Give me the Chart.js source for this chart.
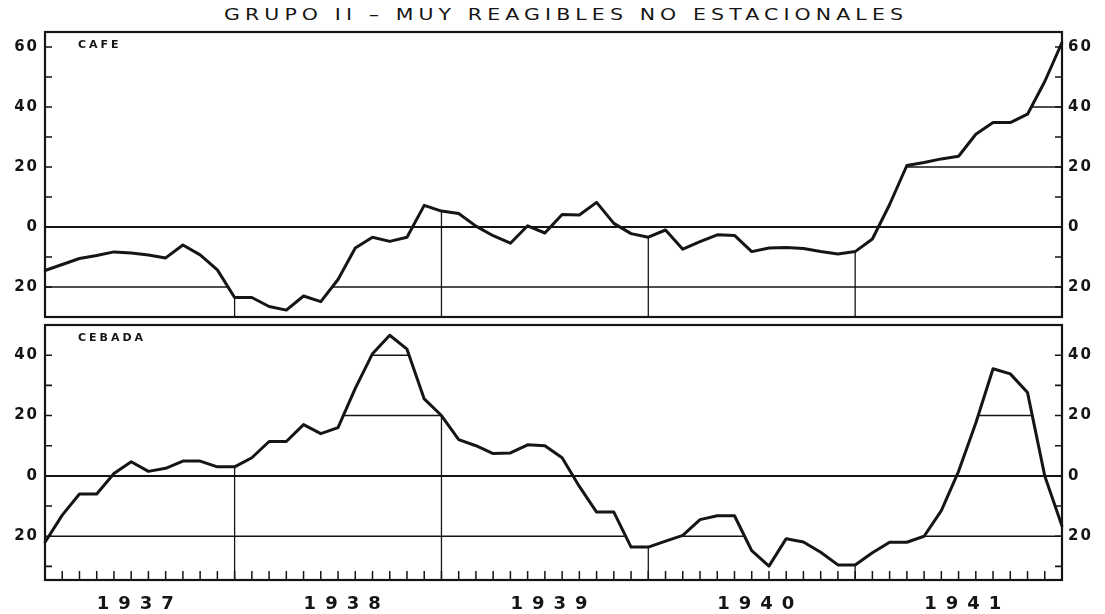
<!DOCTYPE html>
<html><head><meta charset="utf-8">
<script src="https://cdn.jsdelivr.net/npm/chart.js@4.4.1/dist/chart.umd.min.js"></script>
<style>
html,body{margin:0;padding:0;background:#fff;width:1105px;height:614px;overflow:hidden;}
#title{position:absolute;left:566px;top:6px;display:inline-block;transform:translateX(-50%) scaleX(1.28);transform-origin:center;font:16px "DejaVu Sans";letter-spacing:4px;color:#151515;white-space:nowrap;line-height:18px;}
canvas{position:absolute;left:0;}
#c1{top:0}
#c2{top:320px}
</style></head><body>
<div id="title">GRUPO II – MUY REAGIBLES NO ESTACIONALES</div>
<canvas id="c1" width="1105" height="320"></canvas>
<canvas id="c2" width="1105" height="294"></canvas>
<script>
const years = ['1937','1938','1939','1940','1941'];
const monthNames = ['Ene','Feb','Mar','Abr','May','Jun','Jul','Ago','Sep','Oct','Nov','Dic'];
const monthLabels = years.flatMap(y => monthNames.map(m => m + ' ' + y));

const cafe = [
  -14.5,-12.5,-10.5,-9.5,-8.3,-8.7,-9.3,-10.3,-6,-9.3,-14.3,-23.5,
  -23.5,-26.5,-27.7,-23,-24.9,-17.5,-7,-3.4,-4.8,-3.4,7.2,5.3,
  4.5,0.3,-2.9,-5.4,0.4,-2,4.2,4,8.2,1.2,-2.2,-3.4,
  -1,-7.4,-4.9,-2.6,-2.8,-8.2,-7,-6.8,-7.2,-8.2,-9,-8.2,
  -4,7.5,20.5,21.5,22.7,23.6,30.9,34.8,34.8,37.6,48.5,61.5
];
const cebada = [
  -22,-13,-6,-6,0.8,4.7,1.5,2.5,4.9,4.9,3,3,
  6,11.4,11.4,17,14,16,29,40.5,46.6,42,25.5,20,
  12,10,7.4,7.6,10.3,10,6,-3.5,-12,-12,-23.6,-23.6,
  -21.6,-19.7,-14.5,-13.2,-13.2,-24.8,-29.9,-20.8,-21.9,-25.3,-29.5,-29.5,
  -25.5,-22,-22,-20,-11.5,1.5,17.5,35.5,33.8,27.6,0,-16.6
];

const cafeTicks = [60,40,20,0,-20];
const cafeMinorTicks = [50,30,10,-10];
const cebadaTicks = [40,20,0,-20];
const cebadaMinorTicks = [30,10,-10,-30];
const guideLevels = [40,20,-20];
const yearEndMonths = ['Dic 1937','Dic 1938','Dic 1939','Dic 1940'];

const INK = '#151515';

const panelDecor = {
  id: 'panelDecor',
  beforeDraw(chart){ chart.ctx.letterSpacing = '2px'; },
  beforeDatasetsDraw(chart, args, o){
    const {ctx, chartArea:a, scales:{x,y}} = chart;
    const pts = chart.getDatasetMeta(0).data;
    ctx.save();
    ctx.strokeStyle = INK;
    ctx.lineWidth = 2;
    const y0 = y.getPixelForValue(0);
    ctx.beginPath(); ctx.moveTo(a.left,y0); ctx.lineTo(a.right,y0); ctx.stroke();
    ctx.beginPath();
    ctx.moveTo(pts[0].x, a.bottom);
    pts.forEach(p => ctx.lineTo(p.x, p.y));
    ctx.lineTo(pts[pts.length-1].x, a.bottom);
    ctx.closePath();
    ctx.clip();
    ctx.lineWidth = 1.5;
    ctx.beginPath();
    guideLevels.forEach(v => { const py = y.getPixelForValue(v); ctx.moveTo(a.left,py); ctx.lineTo(a.right,py); });
    ctx.stroke();
    ctx.lineWidth = 1.3;
    ctx.beginPath();
    yearEndMonths.forEach(l => { const px = x.getPixelForValue(monthLabels.indexOf(l)); ctx.moveTo(px,a.top); ctx.lineTo(px,a.bottom); });
    ctx.stroke();
    ctx.restore();
  },
  afterDatasetsDraw(chart, args, o){
    const {ctx, chartArea:a, scales:{x,y}} = chart;
    ctx.save();
    ctx.strokeStyle = INK;
    ctx.lineWidth = 2.2;
    ctx.strokeRect(a.left, a.top, a.right-a.left, a.bottom-a.top);
    ctx.lineWidth = 1.6;
    ctx.beginPath();
    o.major.concat(o.minor).forEach(v => {
      const py = y.getPixelForValue(v);
      ctx.moveTo(a.left, py); ctx.lineTo(a.left+7, py);
      ctx.moveTo(a.right-7, py); ctx.lineTo(a.right, py);
    });
    ctx.stroke();
    if (o.monthTicks){
      ctx.lineWidth = 1.5;
      ctx.beginPath();
      monthLabels.forEach((l,i) => { const px = x.getPixelForValue(i); ctx.moveTo(px,a.bottom); ctx.lineTo(px,a.bottom-9); });
      ctx.stroke();
      ctx.fillStyle = INK;
      ctx.font = 'bold 18px "DejaVu Sans"';
      ctx.letterSpacing = '9px';
      ctx.textAlign = 'center'; ctx.textBaseline = 'middle';
      years.forEach(yr => {
        const p1 = x.getPixelForValue(monthLabels.indexOf('Jun ' + yr));
        const p2 = x.getPixelForValue(monthLabels.indexOf('Jul ' + yr));
        ctx.fillText(yr, (p1 + p2) / 2, a.bottom + 24);
      });
    }
    ctx.fillStyle = INK;
    ctx.font = 'bold 11px "DejaVu Sans"';
    ctx.letterSpacing = '3px';
    ctx.textAlign = 'left'; ctx.textBaseline = 'middle';
    ctx.fillText(o.name, a.left + 33, a.top + 13);
    ctx.restore();
  },
  afterDraw(chart){ chart.ctx.letterSpacing = '0px'; }
};

function makeChart(id, data, name, min, max, ticks, minor, padTop, padBottom, monthTicks){
  const yScale = (pos) => ({
    type:'linear', position:pos, min, max,
    afterBuildTicks: s => { s.ticks = ticks.map(v => ({value:v})); },
    afterFit: s => { s.width = pos === 'left' ? 45 : 43; s.paddingTop = 0; s.paddingBottom = 0; },
    grid:{display:false, drawTicks:false}, border:{display:false},
    ticks:{color:INK, font:{family:'"DejaVu Sans"', size:15, weight:'bold'}, padding:6,
      callback: v => String(Math.abs(v))}
  });
  return new Chart(document.getElementById(id), {
    type:'line',
    data:{ labels: monthLabels, datasets:[{ data, label:name, borderColor:INK, borderWidth:3,
      pointRadius:0, tension:0, fill:false, borderJoinStyle:'round', borderCapStyle:'round', yAxisID:'y' }]},
    options:{
      responsive:false, animation:false, devicePixelRatio:1,
      layout:{padding:{top:padTop, bottom:padBottom, left:0, right:0}},
      plugins:{ legend:{display:false}, tooltip:{enabled:false},
        panelDecor:{ name, major:ticks, minor, monthTicks } },
      scales:{
        x:{ type:'category', display:false, offset:false },
        y: yScale('left'),
        yR: yScale('right')
      }
    },
    plugins:[panelDecor]
  });
}

makeChart('c1', cafe, 'CAFE', -30, 65, cafeTicks, cafeMinorTicks, 32, 3, false);
makeChart('c2', cebada, 'CEBADA', -34.5, 50, cebadaTicks, cebadaMinorTicks, 5, 34, true);
</script>
</body></html>
